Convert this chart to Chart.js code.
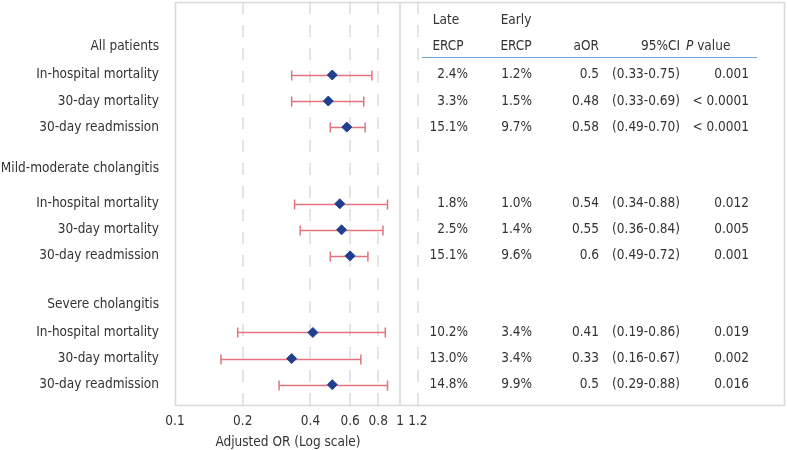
<!DOCTYPE html>
<html>
<head>
<meta charset="utf-8">
<script src="https://cdn.jsdelivr.net/npm/chart.js@4"></script>
<style>
  body { margin: 0; background: #fff; }
</style>
</head>
<body>
<canvas id="forest" width="787" height="450"></canvas>
<script>
const groups = ['All patients', 'Mild-moderate cholangitis', 'Severe cholangitis']
const groupRows = [1.7, 6.4, 11.6]
const outcomes = ['In-hospital mortality', '30-day mortality', '30-day readmission',
  'In-hospital mortality', '30-day mortality', '30-day readmission',
  'In-hospital mortality', '30-day mortality', '30-day readmission']
const rows = [2.8, 3.8, 4.8, 7.74, 8.74, 9.74, 12.68, 13.68, 14.68]
const aor = [0.5, 0.48, 0.58, 0.54, 0.55, 0.6, 0.41, 0.33, 0.5]
const ciLow = [0.33, 0.33, 0.49, 0.34, 0.36, 0.49, 0.19, 0.16, 0.29]
const ciHigh = [0.75, 0.69, 0.70, 0.88, 0.84, 0.72, 0.86, 0.67, 0.88]
const lateErcp = ['2.4%', '3.3%', '15.1%', '1.8%', '2.5%', '15.1%', '10.2%', '13.0%', '14.8%']
const earlyErcp = ['1.2%', '1.5%', '9.7%', '1.0%', '1.4%', '9.6%', '3.4%', '3.4%', '9.9%']
const aorText = ['0.5', '0.48', '0.58', '0.54', '0.55', '0.6', '0.41', '0.33', '0.5']
const ciText = ['(0.33-0.75)', '(0.33-0.69)', '(0.49-0.70)', '(0.34-0.88)', '(0.36-0.84)',
  '(0.49-0.72)', '(0.19-0.86)', '(0.16-0.67)', '(0.29-0.88)']
const pValues = ['0.001', '< 0.0001', '< 0.0001', '0.012', '0.005', '0.001', '0.019', '0.002', '0.016']
const xTicks = [0.1, 0.2, 0.4, 0.6, 0.8, 1, 1.2]

const FONT = '"DejaVu Sans Condensed", "Liberation Sans", sans-serif'
const SIZE = 13.5
const TEXT = '#333333'

// grid, frame and CI whiskers go under the diamonds
const underlay = {
  id: 'underlay',
  beforeDatasetsDraw(chart) {
    const { ctx, chartArea: a, scales: { x, y } } = chart
    ctx.save()
    xTicks.forEach((v) => {
      if (v === 0.1) return
      const px = Math.round(x.getPixelForValue(v))
      ctx.beginPath()
      ctx.lineWidth = 1.5
      ctx.strokeStyle = v === 1 ? '#d6d6d6' : '#dddddd'
      ctx.setLineDash(v === 1 ? [] : [12, 11])
      ctx.moveTo(px, a.top)
      ctx.lineTo(px, a.bottom)
      ctx.stroke()
    })
    ctx.setLineDash([])
    ctx.lineWidth = 1.5
    ctx.strokeStyle = '#d9d9d9'
    ctx.strokeRect(a.left + 0.5, a.top + 0.5, a.right - a.left - 1, a.bottom - a.top - 1)

    ctx.strokeStyle = '#e5737f'
    ctx.lineWidth = 1.5
    rows.forEach((r, i) => {
      const py = Math.round(y.getPixelForValue(r)) + 0.5
      const x0 = x.getPixelForValue(ciLow[i])
      const x1 = x.getPixelForValue(ciHigh[i])
      ctx.beginPath()
      ctx.moveTo(x0, py); ctx.lineTo(x1, py)
      ctx.moveTo(x0, py - 5); ctx.lineTo(x0, py + 5)
      ctx.moveTo(x1, py - 5); ctx.lineTo(x1, py + 5)
      ctx.stroke()
    })
    ctx.restore()
  }
}

// row labels on the left and the table on the right
const labels = {
  id: 'labels',
  afterDraw(chart) {
    const { ctx, scales: { y } } = chart
    const font = SIZE + 'px ' + FONT
    ctx.save()
    ctx.fillStyle = TEXT
    ctx.font = font
    ctx.textBaseline = 'middle'
    ctx.textAlign = 'right'
    groups.forEach((g, i) => ctx.fillText(g, 159, y.getPixelForValue(groupRows[i])))
    outcomes.forEach((o, i) => ctx.fillText(o, 159, y.getPixelForValue(rows[i])))

    // header
    const h1 = y.getPixelForValue(0.72)
    const h2 = y.getPixelForValue(groupRows[0])
    ctx.textAlign = 'center'
    ctx.fillText('Late', 446, h1)
    ctx.fillText('ERCP', 448, h2)
    ctx.fillText('Early', 516, h1)
    ctx.fillText('ERCP', 516, h2)
    ctx.textAlign = 'right'
    ctx.fillText('aOR', 599, h2)
    ctx.fillText('95%CI', 680, h2)
    ctx.textAlign = 'left'
    ctx.font = 'italic ' + font
    ctx.fillText('P', 686, h2)
    const pw = ctx.measureText('P ').width
    ctx.font = font
    ctx.fillText('value', 686 + pw, h2)

    const lineY = Math.round(y.getPixelForValue(2.12)) + 0.5
    ctx.strokeStyle = '#6fa8dc'
    ctx.lineWidth = 1
    ctx.beginPath()
    ctx.moveTo(422, lineY)
    ctx.lineTo(757, lineY)
    ctx.stroke()

    ctx.textAlign = 'right'
    rows.forEach((r, i) => {
      const py = y.getPixelForValue(r)
      ctx.fillText(lateErcp[i], 468, py)
      ctx.fillText(earlyErcp[i], 532, py)
      ctx.fillText(aorText[i], 599, py)
      ctx.fillText(ciText[i], 680, py)
      ctx.fillText(pValues[i], 749, py)
    })

    ctx.textAlign = 'center'
    ctx.fillText('Adjusted OR (Log scale)', 288, 442)
    ctx.restore()
  }
}

const ctx = document.getElementById('forest').getContext('2d')
const chart = new Chart(ctx, {
  type: 'scatter',
  data: {
    datasets: [{
      data: rows.map((r, i) => ({ x: aor[i], y: r })),
      pointStyle: 'rectRot',
      radius: 5,
      backgroundColor: '#1f3f8f',
      borderColor: '#1f3f8f',
      borderWidth: 1
    }]
  },
  options: {
    responsive: false,
    animation: false,
    layout: { autoPadding: false, padding: { left: 175, right: 2, top: 2, bottom: 0 } },
    plugins: { legend: { display: false }, tooltip: { enabled: false } },
    scales: {
      x: {
        type: 'logarithmic',
        min: 0.1,
        max: 51.4,
        grid: { display: false, drawTicks: false },
        border: { display: false },
        afterBuildTicks: (scale) => { scale.ticks = xTicks.map((v) => ({ value: v })) },
        afterFit: (scale) => { scale.height = 44 },
        ticks: {
          autoSkip: false,
          maxRotation: 0,
          padding: 7,
          color: TEXT,
          font: { family: FONT, size: SIZE },
          callback: (v) => String(v)
        }
      },
      y: {
        display: false,
        reverse: true,
        min: 0,
        max: 15.5
      }
    }
  },
  plugins: [underlay, labels]
})
</script>
</body>
</html>
